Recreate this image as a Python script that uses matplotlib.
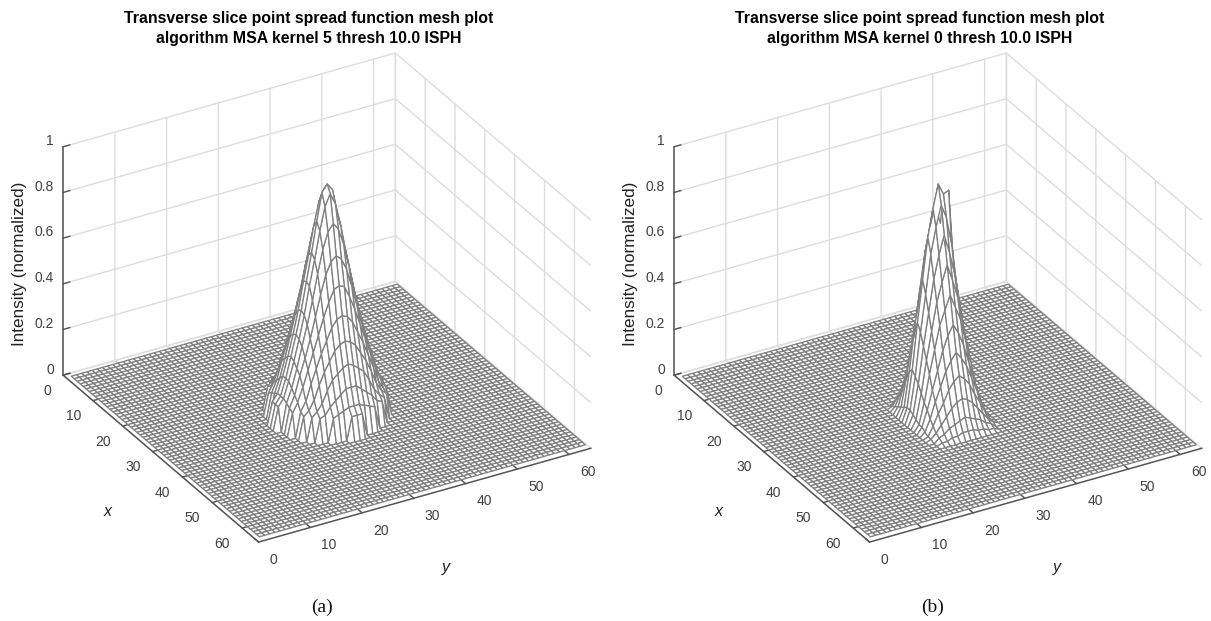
import numpy as np
import matplotlib
matplotlib.use("Agg")
import matplotlib.pyplot as plt

plt.rcParams['font.family'] = ['Liberation Sans', 'DejaVu Sans']

grid_x = np.arange(1, 65)
grid_y = np.arange(1, 65)
peak_row = 33   # x index of the peak
peak_col = 32   # y index of the peak

titles = ["Transverse slice point spread function mesh plot\nalgorithm MSA kernel 5 thresh 10.0 ISPH",
          "Transverse slice point spread function mesh plot\nalgorithm MSA kernel 0 thresh 10.0 ISPH"]
captions = ["(a)", "(b)"]
xyticks = [0, 10, 20, 30, 40, 50, 60]
zticks = [0, 0.2, 0.4, 0.6, 0.8, 1]
zticklabels = ['0', '0.2', '0.4', '0.6', '0.8', '1']

# panel (a): intensity x 100, one quadrant of a symmetric peak (offset 0..10 from the centre)
quadrant_a = [
    [100, 97, 85, 72, 60, 48, 38, 29, 20, 13, 10],
    [97, 92, 82, 70, 59, 47, 37, 28, 20, 13, 10],
    [85, 82, 75, 65, 54, 44, 35, 26, 18, 12, 0],
    [72, 70, 65, 57, 48, 39, 31, 24, 16, 11, 0],
    [60, 59, 54, 48, 41, 34, 27, 20, 14, 10, 0],
    [48, 47, 44, 39, 34, 28, 22, 15, 11, 0, 0],
    [38, 37, 35, 31, 27, 22, 16, 12, 10, 0, 0],
    [29, 28, 26, 24, 20, 15, 12, 10, 0, 0, 0],
    [20, 20, 18, 16, 14, 11, 10, 0, 0, 0, 0],
    [13, 13, 12, 11, 10, 0, 0, 0, 0, 0, 0],
    [10, 10, 0, 0, 0, 0, 0, 0, 0, 0, 0],
]

# panel (b): intensity x 100, rows x offset -6..10, columns y offset -6..6
patch_b = [
    [0, 1, 3, 4, 5, 5, 6, 5, 5, 4, 3, 1, 0],
    [1, 4, 8, 11, 14, 16, 18, 16, 14, 11, 8, 4, 1],
    [2, 7, 14, 20, 27, 31, 34, 31, 27, 20, 14, 7, 2],
    [3, 11, 22, 31, 41, 47, 52, 47, 41, 31, 22, 11, 3],
    [4, 16, 30, 43, 56, 65, 72, 65, 56, 43, 30, 16, 4],
    [5, 20, 38, 54, 70, 81, 90, 81, 70, 54, 38, 20, 5],
    [6, 22, 42, 60, 78, 90, 100, 95, 96, 62, 42, 22, 6],
    [6, 20, 39, 55, 72, 83, 92, 86, 74, 55, 39, 20, 6],
    [5, 18, 34, 48, 62, 72, 80, 72, 62, 48, 34, 18, 5],
    [4, 15, 29, 41, 53, 61, 68, 61, 53, 41, 29, 15, 4],
    [3, 12, 24, 34, 44, 50, 56, 50, 44, 34, 24, 12, 3],
    [3, 10, 18, 26, 34, 40, 44, 40, 34, 26, 18, 10, 3],
    [2, 7, 14, 20, 26, 30, 33, 30, 26, 20, 14, 7, 2],
    [1, 5, 10, 14, 19, 22, 24, 22, 19, 14, 10, 5, 1],
    [1, 3, 6, 9, 12, 14, 15, 14, 12, 9, 6, 3, 1],
    [0, 2, 3, 5, 6, 7, 8, 7, 6, 5, 3, 2, 0],
    [0, 1, 1, 2, 2, 3, 3, 3, 2, 2, 1, 1, 0],
]


def surface_a():
    q = np.array(quadrant_a, float) / 100
    off = np.abs(np.arange(-10, 11))
    full = q[np.ix_(off, off)]
    z = np.zeros((len(grid_x), len(grid_y)))
    r0 = peak_row - 1 - 10
    c0 = peak_col - 1 - 10
    z[r0:r0 + full.shape[0], c0:c0 + full.shape[1]] = full
    return z


def surface_b():
    p = np.array(patch_b, float) / 100
    z = np.zeros((len(grid_x), len(grid_y)))
    r0 = peak_row - 1 - 6
    c0 = peak_col - 1 - 6
    z[r0:r0 + p.shape[0], c0:c0 + p.shape[1]] = p
    return z


FIG_W, FIG_H = 1211, 621
fig = plt.figure(figsize=(FIG_W / 100, FIG_H / 100), dpi=100)
GRID = '#dddddd'
AXC = '#555555'
TXT = '#404040'
AX_PX = 590
DATA_PER_PX = 0.185 / AX_PX   # width of the 3D axes' 2D view over its pixel width


def nudge(text, dx_px, dy_px):
    # mplot3d re-places its labels on each draw; keep a fixed pixel offset on top of that
    place = text.set_position
    text.set_position = lambda xy: place((xy[0] + dx_px * DATA_PER_PX, xy[1] + dy_px * DATA_PER_PX))


def panel(left_px, z, title, caption):
    ax = fig.add_axes([left_px / FIG_W, 20.5 / FIG_H, AX_PX / FIG_W, AX_PX / FIG_H],
                      projection='3d', proj_type='ortho')
    ax.patch.set_alpha(0)
    ax.view_init(elev=29.4, azim=-29.9)
    ax.set_box_aspect((392, 383, 262), zoom=1.0)
    X, Y = np.meshgrid(grid_x, grid_y, indexing='ij')
    ax.plot_surface(X, Y, z, rstride=1, cstride=1, color='white', edgecolor='#808080',
                    linewidth=0.95, shade=False, antialiased=True)
    ax.set_xlim(0, 65.5, view_margin=0)
    ax.set_ylim(0, 64.2, view_margin=0)
    ax.set_zlim(0, 1, view_margin=0)
    ax.plot([0, 0], [64.2, 64.2], [0, 1], color=GRID, lw=1.0)
    ax.set_xticks(xyticks)
    ax.set_yticks(xyticks)
    ax.set_zticks(zticks)
    ax.set_zticklabels(zticklabels)
    ax.set_xticklabels([str(v) for v in xyticks])
    ax.set_yticklabels([str(v) for v in xyticks])
    ax.tick_params(labelsize=10, labelcolor=TXT, color=AXC, pad=0)
    for axis in (ax.xaxis, ax.yaxis, ax.zaxis):
        axis.set_pane_color((1, 1, 1, 0))
        axis.pane.set_edgecolor((1, 1, 1, 0))
        axis.line.set_color(AXC)
        axis.line.set_linewidth(1.1)
        axis._axinfo['grid'].update(color=GRID, linewidth=1.0)
        axis._axinfo['tick'].update(inward_factor=0.0, outward_factor=0.25,
                                    linewidth={True: 1.0, False: 0.5})
        axis.set_rotate_label(False)
    ax.zaxis.set_ticks_position('lower')
    ax.zaxis.set_label_position('lower')
    ax.yaxis.set_tick_params(pad=2)
    for t in ax.get_xticklabels():
        t.set_ha('right')
        nudge(t, 0, 3)
    for t in ax.get_yticklabels():
        t.set_ha('left')
        t.set_va('bottom')
        nudge(t, 2, -7)
    for t in ax.get_zticklabels():
        t.set_ha('right')
        nudge(t, 10, 10)
    ax.set_xlabel('x', style='italic', fontsize=11.5, labelpad=12, color='#222222')
    ax.set_ylabel('y', style='italic', fontsize=11.5, labelpad=12, color='#222222')
    ax.set_zlabel('Intensity (normalized)', fontsize=12.3, rotation=90, labelpad=6, color='#222222')
    nudge(ax.xaxis.label, -4, -5)
    nudge(ax.yaxis.label, -8, -13)
    nudge(ax.zaxis.label, 21, -12)
    ax.set_title(title, fontsize=11.45, fontweight='bold', x=285 / AX_PX,
                 y=1.0272, pad=0, linespacing=1.41)
    ax.text2D(298 / AX_PX, (-1.5 - 10) / AX_PX, caption, transform=ax.transAxes,
              family='Liberation Serif', fontsize=14, ha='center', va='baseline', color='#111111')
    return ax


panel(24, surface_a(), titles[0], captions[0])
panel(635, surface_b(), titles[1], captions[1])
fig.savefig('out.png', dpi=100)
